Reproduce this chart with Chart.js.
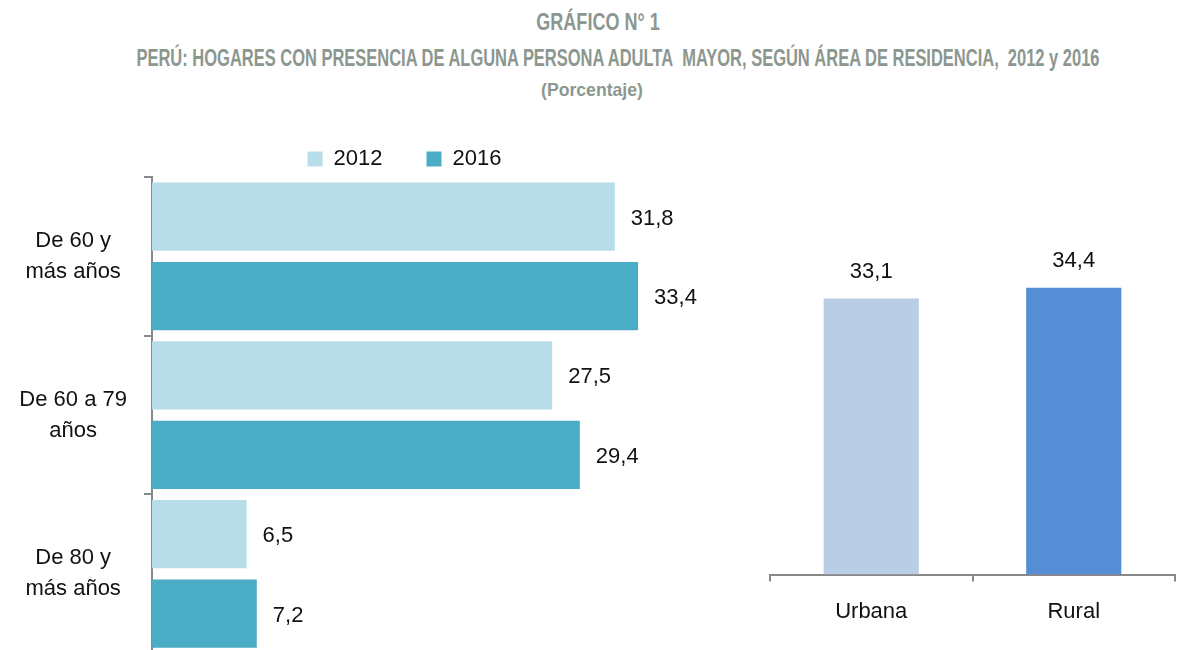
<!DOCTYPE html>
<html>
<head>
<meta charset="utf-8">
<script src="https://cdn.jsdelivr.net/npm/chart.js@4/dist/chart.umd.min.js"></script>
<style>
  body { margin: 0; background: #fff; width: 1195px; height: 650px; overflow: hidden; position: relative; }
  .t { position: absolute; color: #8b978f; font-family: 'Liberation Sans', Arial, sans-serif;
       font-weight: bold; white-space: nowrap; }
  #left { position: absolute; left: 0; top: 101px; }
  #right { position: absolute; left: 730px; top: 200px; }
</style>
</head>
<body>
<div class="t" style="top:9px;left:598px;font-size:23px;" data-w="123">GRÁFICO N° 1</div>
<div class="t" style="top:45px;left:618px;font-size:23px;" data-w="963">PERÚ: HOGARES CON PRESENCIA DE ALGUNA PERSONA ADULTA&nbsp; MAYOR, SEGÚN ÁREA DE RESIDENCIA,&nbsp; 2012 y 2016</div>
<div class="t" style="top:79px;left:592px;font-size:19px;" data-w="102">(Porcentaje)</div>
<canvas id="left" width="808" height="600"></canvas>
<canvas id="right" width="465" height="468"></canvas>
<script>
const ageGroups = [['De 60 y', 'más años'], ['De 60 a 79', 'años'], ['De 80 y', 'más años']];
const values2012 = [31.8, 27.5, 6.5];
const values2016 = [33.4, 29.4, 7.2];
const areas = ['Urbana', 'Rural'];
const areaValues = [33.1, 34.4];

// condensed title lines, centred on their left coordinate
document.querySelectorAll('.t').forEach((s) => {
  s.style.transform = 'translateX(-50%) scaleX(' + (s.dataset.w / s.offsetWidth) + ')';
});

const fmt = (v) => v.toFixed(1).replace('.', ',');
const labelFont = '22px "Liberation Sans", Arial, sans-serif';

// draws the value next to each bar
const valueLabels = {
  id: 'valueLabels',
  afterDatasetsDraw(chart, args, opts) {
    const ctx = chart.ctx;
    ctx.save();
    ctx.font = labelFont;
    ctx.fillStyle = '#111';
    ctx.textBaseline = 'middle';
    chart.data.datasets.forEach((ds, i) => {
      chart.getDatasetMeta(i).data.forEach((bar, j) => {
        const text = fmt(ds.data[j]);
        if (opts.horizontal) {
          ctx.textAlign = 'left';
          ctx.fillText(text, bar.x + 16, bar.y + 2);
        } else {
          ctx.textAlign = 'center';
          ctx.fillText(text, bar.x, bar.y - 27);
        }
      });
    });
    ctx.restore();
  },
};

// move the legend over to the right like in the original
const legendShift = {
  id: 'legendShift',
  afterLayout(chart, args, opts) {
    chart.legend.left += opts.dx;
    chart.legend.right += opts.dx;
    chart.legend.top += opts.dy;
    chart.legend.bottom += opts.dy;
  },
};

Chart.defaults.font.family = '"Liberation Sans", Arial, sans-serif';
Chart.defaults.color = '#111';

new Chart(document.getElementById('left'), {
  type: 'bar',
  data: {
    labels: ageGroups,
    datasets: [
      { label: '2012', data: values2012, backgroundColor: '#b7dee8', categoryPercentage: 1, barPercentage: 0.86 },
      { label: '2016', data: values2016, backgroundColor: '#4bacc6', categoryPercentage: 1, barPercentage: 0.86 },
    ],
  },
  options: {
    indexAxis: 'y',
    responsive: false,
    animation: false,
    layout: { padding: { top: 0, right: 103, bottom: 0, left: 0 } },
    plugins: {
      legend: {
        labels: { boxWidth: 15, boxHeight: 15, padding: 44, font: { size: 22 }, color: '#111' },
      },
      tooltip: { enabled: false },
      valueLabels: { horizontal: true },
      legendShift: { dx: 52, dy: 3 },
    },
    scales: {
      x: { display: false, min: 0, max: 38 },
      y: {
        afterFit: (scale) => { scale.width = 152; },
        border: { color: '#888', width: 2 },
        grid: { drawOnChartArea: false, tickLength: 8, color: '#888', lineWidth: 2 },
        ticks: { crossAlign: 'center', padding: 17, font: { size: 22, lineHeight: 1.4 }, color: '#111' },
      },
    },
  },
  plugins: [valueLabels, legendShift],
});

new Chart(document.getElementById('right'), {
  type: 'bar',
  data: {
    labels: areas,
    datasets: [
      { label: 'Área', data: areaValues, backgroundColor: ['#b9cde5', '#558ed5'], categoryPercentage: 1, barPercentage: 0.47 },
    ],
  },
  options: {
    responsive: false,
    animation: false,
    layout: { padding: { top: 41, right: 20, bottom: 26, left: 40 } },
    plugins: {
      legend: { display: false },
      tooltip: { enabled: false },
      valueLabels: { horizontal: false },
    },
    scales: {
      y: { display: false, min: 0, max: 40 },
      x: {
        border: { color: '#888', width: 2 },
        grid: { drawOnChartArea: false, tickLength: 7, color: '#888', lineWidth: 2 },
        ticks: { font: { size: 22 }, padding: 17, color: '#111' },
      },
    },
  },
  plugins: [valueLabels],
});
</script>
</body>
</html>
